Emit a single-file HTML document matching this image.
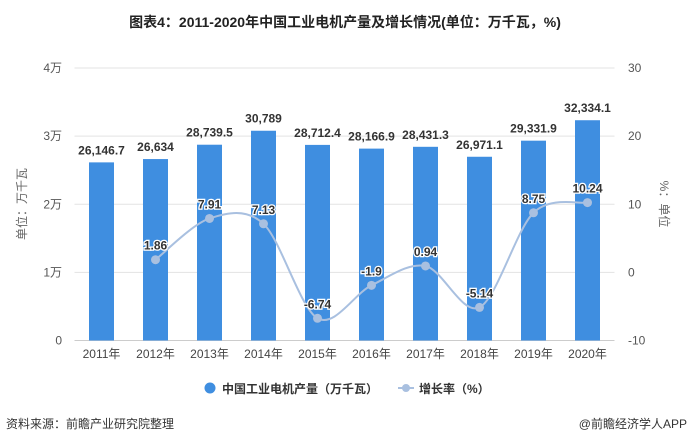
<!DOCTYPE html>
<html><head><meta charset="utf-8"><style>
body{margin:0;background:#fff;font-family:"Liberation Sans","Noto Sans CJK SC",sans-serif}
svg text{font-family:"Liberation Sans","Noto Sans CJK SC",sans-serif}
</style></head><body>
<svg id="c" width="691" height="443" viewBox="0 0 691 443" xmlns="http://www.w3.org/2000/svg">
<text x="345" y="27" text-anchor="middle" font-size="14" font-weight="bold" fill="#222">图表4：2011-2020年中国工业电机产量及增长情况(单位：万千瓦，%)</text>
<g id="grid"></g><g id="bars"></g><g id="line"></g><g id="labels"></g>
<text transform="translate(26,204) rotate(-90)" text-anchor="middle" font-size="12" fill="#666">单位：万千瓦</text>
<text transform="translate(660,204) rotate(90)" text-anchor="middle" font-size="12" fill="#666">%：单位</text>
<g>
<circle cx="210" cy="388" r="5.5" fill="#3f8ee0"/>
<text x="222" y="393" font-size="12" font-weight="bold" fill="#333">中国工业电机产量（万千瓦）</text>
<line x1="398" y1="388" x2="414" y2="388" stroke="#a9c0e0" stroke-width="2"/>
<circle cx="406" cy="388" r="4" fill="#a9c0e0"/>
<text x="419" y="393" font-size="12" font-weight="bold" fill="#333">增长率（%）</text>
</g>
<text x="6" y="428" font-size="12" fill="#333">资料来源：前瞻产业研究院整理</text>
<text x="687" y="428" text-anchor="end" font-size="12" fill="#333">@前瞻经济学人APP</text>
</svg>
<script>
const categories=["2011年","2012年","2013年","2014年","2015年","2016年","2017年","2018年","2019年","2020年"];
const outputValues=[26146.7,26634,28739.5,30789,28712.4,28166.9,28431.3,26971.1,29331.9,32334.1];
const outputLabels=["26,146.7","26,634","28,739.5","30,789","28,712.4","28,166.9","28,431.3","26,971.1","29,331.9","32,334.1"];
const growthValues=[null,1.86,7.91,7.13,-6.74,-1.9,0.94,-5.14,8.75,10.24];
const leftTicks=[0,10000,20000,30000,40000];
const leftTickLabels=["0","1万","2万","3万","4万"];
const rightTicks=[-10,0,10,20,30];
const NS="http://www.w3.org/2000/svg";
const X0=74.5,BAND=54,TOP=68,BOT=340.5;
const xc=i=>X0+BAND*(i+0.5);
const yL=v=>BOT-(v-0)/(40000)*(BOT-TOP);
const yR=v=>BOT-(v+10)/40*(BOT-TOP);
function mk(t,a,p){const e=document.createElementNS(NS,t);for(const k in a)e.setAttribute(k,a[k]);p.appendChild(e);return e;}
const g=document.getElementById('grid'),b=document.getElementById('bars'),l=document.getElementById('line'),lb=document.getElementById('labels');
leftTicks.forEach((v,i)=>{
 const y=yL(v);
 const ln=mk('line',{x1:X0,x2:X0+BAND*10,y1:y,y2:y,stroke:i==0?'#ccc':'#e3e3e3','stroke-width':1},g);
 
 const t=mk('text',{x:62,y:y+4,'text-anchor':'end','font-size':12,fill:'#555'},g);t.textContent=leftTickLabels[i];
 
});
rightTicks.forEach(v=>{
 const t=mk('text',{x:628,y:yR(v)+4,'font-size':12,fill:'#555'},g);t.textContent=v;
 
});
categories.forEach((c,i)=>{
 const t=mk('text',{x:xc(i),y:358,'text-anchor':'middle','font-size':12,fill:'#444'},g);t.textContent=c;
 
 const y=yL(outputValues[i]);
 const r=mk('rect',{x:xc(i)-12.5,y:y,width:25,height:BOT-y,fill:'#3f8ee0'},b);
 
 const tt=mk('text',{x:xc(i),y:y-8,'text-anchor':'middle','font-size':12,'font-weight':'bold',fill:'#333'},lb);tt.textContent=outputLabels[i];
 
});
const pts=[];growthValues.forEach((v,i)=>{if(v!==null)pts.push([xc(i),yR(v),v]);});
let d='M'+pts[0][0]+','+pts[0][1];
for(let i=0;i<pts.length-1;i++){
 const p0=pts[Math.max(0,i-1)],p1=pts[i],p2=pts[i+1],p3=pts[Math.min(pts.length-1,i+2)];
 const t=0.16;
 d+=` C${p1[0]+(p2[0]-p0[0])*t},${p1[1]+(p2[1]-p0[1])*t} ${p2[0]-(p3[0]-p1[0])*t},${p2[1]-(p3[1]-p1[1])*t} ${p2[0]},${p2[1]}`;
}
const path=mk('path',{d:d,fill:'none',stroke:'#a9c0e0','stroke-width':2},l);

pts.forEach(p=>{
 const c=mk('circle',{cx:p[0],cy:p[1],r:4.5,fill:'#a9c0e0'},l);
 
 const t=mk('text',{x:p[0],y:p[1]-10,'text-anchor':'middle','font-size':12,'font-weight':'bold',fill:'#333',stroke:'#fff','stroke-width':2.5,'paint-order':'stroke'},lb);t.textContent=p[2];
 
});
</script>
</body></html>
